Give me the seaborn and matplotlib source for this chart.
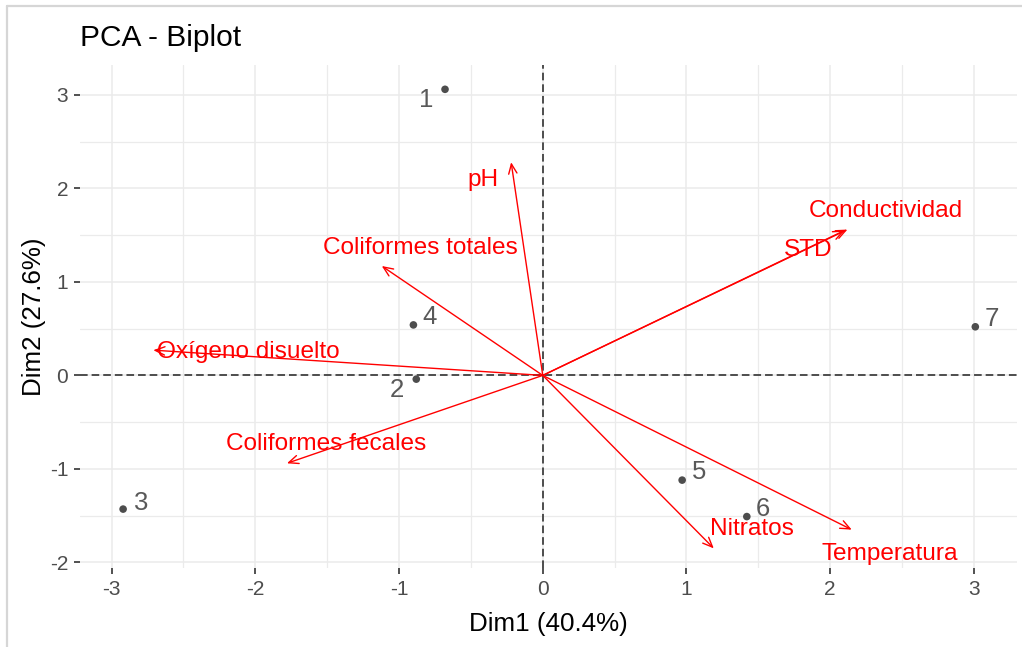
import matplotlib
matplotlib.use("Agg")
import matplotlib.pyplot as plt
import seaborn as sns
import pandas as pd
from matplotlib.lines import Line2D

# Individuals (sampling points) on the first two principal components
ind_labels = ["1", "2", "3", "4", "5", "6", "7"]
ind_dim1 = [-0.68, -0.88, -2.92, -0.90, 0.97, 1.42, 3.01]
ind_dim2 = [3.06, -0.04, -1.43, 0.54, -1.12, -1.51, 0.52]

# Variable loadings (arrows)
var_names = ["pH", "Coliformes totales", "Oxígeno disuelto", "Coliformes fecales",
             "Conductividad", "STD", "Nitratos", "Temperatura"]
var_dim1 = [-0.22, -1.12, -2.71, -1.78, 2.12, 2.10, 1.19, 2.15]
var_dim2 = [2.28, 1.17, 0.27, -0.94, 1.56, 1.55, -1.85, -1.65]

# Explained variance of each dimension (%)
explained = [40.4, 27.6]

x_ticks = [-3, -2, -1, 0, 1, 2, 3]
y_ticks = [-2, -1, 0, 1, 2, 3]

# Label placement (pixel offsets from the mark)
ind_label_offset = [(-19, -11), (-19, -11), (18, 6), (16, 8), (17, 8), (16, 8), (16, 8)]
var_label_offset = [(-28, -18), (39, 18), (95, -2), (39, 19),
                    (38, 19), (-36, -20), (38, 19), (38, -24)]

ind = pd.DataFrame({"Dim1": ind_dim1, "Dim2": ind_dim2, "label": ind_labels})
var = pd.DataFrame({"Dim1": var_dim1, "Dim2": var_dim2, "name": var_names})

sns.set_theme(style="whitegrid")
plt.rcParams["font.family"] = ["Liberation Sans", "DejaVu Sans"]
plt.rcParams["axes.unicode_minus"] = False

W, H = 1022, 647
fig = plt.figure(figsize=(W / 100, H / 100), dpi=100)
fig.patch.set_facecolor("white")
left, right, top, bottom = 80, 1017, 65, 568
ax = fig.add_axes([left / W, 1 - bottom / H, (right - left) / W, (bottom - top) / H])
ax.set_facecolor("white")

# outer frame of the figure
fig.add_artist(Line2D([7 / W, 1.0], [1 - 6 / H, 1 - 6 / H], transform=fig.transFigure,
                      color="#D6D6D6", lw=1.6))
fig.add_artist(Line2D([7 / W, 7 / W], [0.0, 1 - 6 / H], transform=fig.transFigure,
                      color="#D6D6D6", lw=1.6))

# reference axes through the origin
dash = (0, (5, 2.6))
ax.axhline(0, color="#222222", lw=1.1, ls=dash, zorder=1)
ax.axvline(0, color="#222222", lw=1.1, ls=dash, zorder=1)

# individuals
sns.scatterplot(data=ind, x="Dim1", y="Dim2", ax=ax, color="#4D4D4D", s=30,
                edgecolor="none", zorder=3, legend=False)
for (x, y, lab), off in zip(ind[["Dim1", "Dim2", "label"]].itertuples(index=False),
                            ind_label_offset):
    ax.annotate(lab, xy=(x, y), xytext=off, textcoords="offset pixels",
                ha="center", va="center", fontsize=18.5, color="#595959", zorder=4)

# variable arrows
for (x, y, name), off in zip(var[["Dim1", "Dim2", "name"]].itertuples(index=False),
                             var_label_offset):
    ax.annotate("", xy=(x, y), xytext=(0, 0),
                arrowprops=dict(arrowstyle="->,head_length=0.7,head_width=0.3",
                                color="#FF0000", lw=1.0, shrinkA=0, shrinkB=0,
                                mutation_scale=10),
                zorder=5)
    ax.annotate(name, xy=(x, y), xytext=off, textcoords="offset pixels",
                ha="center", va="center", fontsize=17.6, color="#FF0000", zorder=6)

# scales: ticks first, limits last so the view range is not widened
xlim = (-3.22, 3.30)
ylim = (-2.06, 3.32)
ax.set_xticks(x_ticks)
ax.set_yticks(y_ticks)
ax.set_xticks([t + 0.5 for t in x_ticks if xlim[0] < t + 0.5 < xlim[1]], minor=True)
ax.set_yticks([t + 0.5 for t in [-3] + y_ticks if ylim[0] < t + 0.5 < ylim[1]], minor=True)
ax.set_xlim(*xlim)
ax.set_ylim(*ylim)
ax.grid(which="major", color="#EBEBEB", lw=1.1)
ax.grid(which="minor", color="#EBEBEB", lw=0.9)
ax.set_axisbelow(True)
for s in ax.spines.values():
    s.set_visible(False)
ax.tick_params(which="major", length=4.5, width=1.2, color="#333333",
               labelcolor="#4D4D4D", labelsize=15, pad=4, bottom=True, left=True)
ax.tick_params(which="minor", length=0)

ax.set_xlabel(f"Dim1 ({explained[0]}%)", fontsize=18.7, color="black")
ax.set_ylabel(f"Dim2 ({explained[1]}%)", fontsize=18.7, color="black")
ax.xaxis.set_label_coords(0.5, -(612 - bottom) / (bottom - top))
ax.yaxis.set_label_coords(-(left - 46) / (right - left), 0.5)
ax.set_title("PCA - Biplot", loc="left", fontsize=21.5, color="black", pad=14)

fig.savefig("out.png", dpi=100)
